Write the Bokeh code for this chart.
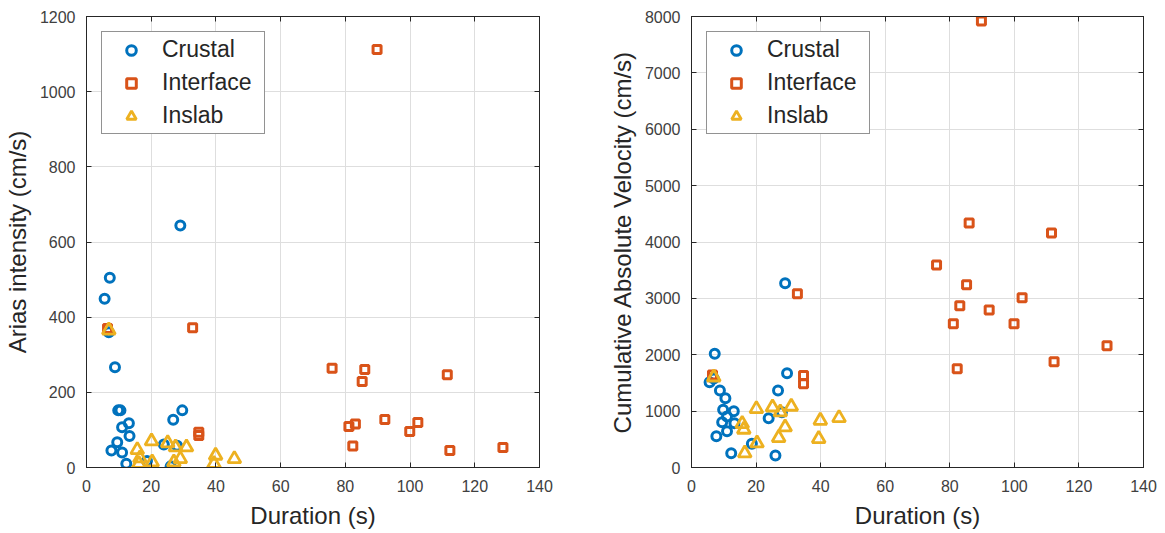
from bokeh.plotting import figure
from bokeh.models import Range1d, LinearAxis, FixedTicker
from bokeh.layouts import row
from bokeh.embed import file_html
from bokeh.resources import INLINE

# ---- data ----
crustal_dur = [5.6, 6.9, 7.2, 8.8, 9.8, 10.5, 11.0, 13.1, 13.3, 9.5, 7.7, 11.0, 12.3,
               23.9, 28.0, 26.0, 18.7, 26.8, 29.6, 29.0]
crustal_ai = [449, 360, 505, 267, 152, 152, 107, 118, 84, 67, 45, 40, 10,
              61, 58, 3, 17, 127, 152, 644]
crustal_cav = [1513, 1580, 2016, 1365, 1023, 1229, 904, 998, 786, 803, 555, 644, 254,
               874, 981, 213, 420, 1365, 1672, 3270]

interface_dur = [6.5, 32.8, 34.7, 34.7, 75.9, 86.0, 85.2, 111.5, 81.1, 83.1, 92.2,
                 102.4, 99.9, 82.3, 112.3, 128.7, 89.8]
interface_ai = [370, 372, 94, 85, 264, 261, 229, 247, 109, 116, 128,
                120, 96, 57, 45, 53, 1112]
interface_cav = [1640, 3080, 1630, 1484, 3593, 4337, 3240, 4160, 2549, 2870, 2796,
                 3009, 2549, 1752, 1876, 2159, 7920]

inslab_dur = [6.9, 15.7, 16.2, 16.5, 20.1, 20.3, 25.1, 27.5, 30.9, 29.0, 27.0,
              39.9, 39.4, 45.7]
inslab_ai = [365, 47, 10, 25, 70, 14, 65, 54, 54, 23, 14, 32, 10, 23]
inslab_cav = [1601, 775, 674, 254, 1040, 431, 1069, 981, 1082, 715, 527, 833, 509, 881]

x_ticks = [0, 20, 40, 60, 80, 100, 120, 140]
ai_ticks = [0, 200, 400, 600, 800, 1000, 1200]
cav_ticks = [0, 1000, 2000, 3000, 4000, 5000, 6000, 7000, 8000]

C_CRU = "#0072BD"
C_INT = "#D95319"
C_INS = "#EDB120"
AX = "#262626"
FONT = "Liberation Sans"


def make(width, ymax, yticks, ylabel, cav_mode, ml, mr):
    p = figure(width=width, height=533, x_range=Range1d(0, 140), y_range=Range1d(0, ymax),
               output_backend="svg", toolbar_location=None,
               min_border_left=ml, min_border_right=mr, min_border_top=16, min_border_bottom=66)
    p.background_fill_color = "white"
    p.border_fill_color = "white"
    p.outline_line_color = AX
    p.outline_line_width = 1
    p.xaxis.ticker = FixedTicker(ticks=x_ticks)
    p.yaxis.ticker = FixedTicker(ticks=yticks)
    p.xgrid.ticker = FixedTicker(ticks=x_ticks)
    p.ygrid.ticker = FixedTicker(ticks=yticks)
    p.grid.grid_line_color = "#dedede"
    p.grid.grid_line_width = 1
    for ax in (p.xaxis[0], p.yaxis[0]):
        ax.axis_line_color = AX
        ax.major_tick_line_color = AX
        ax.major_tick_in = 5
        ax.major_tick_out = 0
        ax.minor_tick_line_color = None
        ax.major_label_text_font = FONT
        ax.major_label_text_font_size = "16px"
        ax.major_label_text_color = "#404040"
        ax.axis_label_text_font = FONT
        ax.axis_label_text_font_size = "24px"
        ax.axis_label_text_font_style = "normal"
        ax.axis_label_text_color = AX
    p.xaxis.axis_label = "Duration (s)"
    p.yaxis.axis_label = ylabel
    p.xaxis.major_label_standoff = 12
    p.yaxis.major_label_standoff = 11
    p.xaxis.axis_label_standoff = 7
    p.yaxis.axis_label_standoff = 6
    for loc, tk in (("right", yticks), ("above", x_ticks)):
        a = LinearAxis(ticker=FixedTicker(ticks=tk))
        a.axis_line_color = AX
        a.major_tick_line_color = AX
        a.major_tick_in = 5
        a.major_tick_out = 0
        a.minor_tick_line_color = None
        a.major_label_text_color = None
        a.major_label_text_font_size = "0px"
        a.major_label_standoff = 0
        p.add_layout(a, loc)

    if cav_mode:
        yc, yi, ys = crustal_cav, interface_cav, inslab_cav
    else:
        yc, yi, ys = crustal_ai, interface_ai, inslab_ai
    p.scatter(crustal_dur, yc, marker="circle", size=9, line_width=3,
              line_color=C_CRU, fill_color=None, legend_label="Crustal")
    p.scatter(interface_dur, yi, marker="square", size=8, line_width=3,
              line_color=C_INT, fill_color=None, legend_label="Interface")
    p.scatter(inslab_dur, ys, marker="triangle", size=13, line_width=2.8,
              line_color=C_INS, fill_color=None, legend_label="Inslab")

    lg = p.legend[0]
    lg.location = "top_left"
    lg.margin = 15
    lg.padding = 4
    lg.spacing = 6
    lg.glyph_width = 50
    lg.glyph_height = 24
    lg.label_height = 24
    lg.label_width = 98
    lg.label_standoff = 6
    lg.label_text_font = FONT
    lg.label_text_font_size = "23px"
    lg.label_text_color = AX
    lg.border_line_color = AX
    lg.border_line_width = 1
    lg.background_fill_color = "white"
    lg.background_fill_alpha = 1
    return p


p1 = make(600, 1200, ai_ticks, "Arias intensity (cm/s)", False, 86, 61)
p2 = make(565, 8000, cav_ticks, "Cumulative Absolute Velocity (cm/s)", True, 91, 22)
p = row(p1, p2)
open("out.html", "w").write(file_html(p, INLINE))
